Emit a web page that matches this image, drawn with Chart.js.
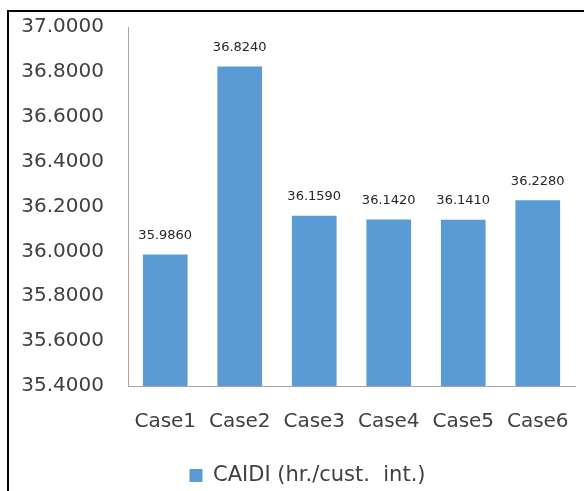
<!DOCTYPE html>
<html>
<head>
<meta charset="utf-8">
<script src="https://cdn.jsdelivr.net/npm/chart.js@4/dist/chart.umd.min.js"></script>
<style>
  body { margin: 0; background: #fff; }
  #wrap { position: relative; width: 584px; height: 491px; overflow: hidden; }
  #frame {
    position: absolute; left: 7px; top: 10px; width: 600px; height: 500px;
    border-top: 2px solid #000; border-left: 2px solid #000;
  }
  canvas { position: absolute; left: 0; top: 0; }
</style>
</head>
<body>
<div id="wrap">
  <div id="frame"></div>
  <canvas id="chart" width="584" height="491"></canvas>
</div>
<script>
const categories = ["Case1", "Case2", "Case3", "Case4", "Case5", "Case6"];
const caidi = [35.986, 36.824, 36.159, 36.142, 36.141, 36.228];
const seriesName = "CAIDI (hr./cust.  int.)";
const yMin = 35.4;
const yMax = 37.0;
const yStep = 0.2;

const barLabels = {
    id: "barLabels",
    afterDatasetsDraw(chart) {
        const ctx = chart.ctx;
        const meta = chart.getDatasetMeta(0);
        ctx.save();
        ctx.font = "13px 'DejaVu Sans'";
        ctx.fillStyle = "#262626";
        ctx.textAlign = "center";
        ctx.textBaseline = "middle";
        meta.data.forEach((bar, i) => {
            ctx.fillText(caidi[i].toFixed(4), bar.x, bar.y - 19);
        });
        ctx.restore();
    },
};

// nudge the legend a bit right and down, like the original
const legendShift = {
    id: "legendShift",
    afterLayout(chart) {
        const lg = chart.legend;
        lg.left += 40;
        lg.top += 5;
        lg.bottom += 5;
    },
};

const ctx = document.getElementById("chart").getContext("2d");
const chart = new Chart(ctx, {
    type: "bar",
    data: {
        labels: categories,
        datasets: [
            {
                label: seriesName,
                data: caidi,
                backgroundColor: "#5B9BD5",
                borderWidth: 0,
                barPercentage: 0.6,
                categoryPercentage: 1.0,
            },
        ],
    },
    options: {
        responsive: false,
        animation: false,
        layout: { padding: { left: 0, right: 9, top: 27, bottom: 0 } },
        plugins: {
            legend: {
                position: "bottom",
                labels: {
                    font: { family: "DejaVu Sans", size: 21 },
                    color: "#404040",
                    boxWidth: 13,
                    boxHeight: 13,
                    padding: 0,
                },
            },
            tooltip: { enabled: false },
        },
        scales: {
            x: {
                grid: { display: false, drawTicks: false },
                border: { display: true, color: "#a6a6a6", width: 1 },
                ticks: {
                    font: { family: "DejaVu Sans", size: 20 },
                    color: "#404040",
                    padding: 24,
                    maxRotation: 0,
                    autoSkip: false,
                },
                afterFit(scale) {
                    scale.height = 74;
                    scale.paddingLeft = 0;
                    scale.paddingRight = 0;
                },
            },
            y: {
                min: yMin,
                max: yMax,
                grid: { display: false, drawTicks: false },
                border: { display: true, color: "#a6a6a6", width: 1 },
                ticks: {
                    stepSize: yStep,
                    font: { family: "DejaVu Sans", size: 20 },
                    color: "#404040",
                    padding: 24,
                    callback: (v) => Number(v).toFixed(4),
                },
                afterFit(scale) {
                    scale.width = 128;
                    scale.paddingTop = 0;
                    scale.paddingBottom = 0;
                },
            },
        },
    },
    plugins: [barLabels, legendShift],
});
</script>
</body>
</html>
